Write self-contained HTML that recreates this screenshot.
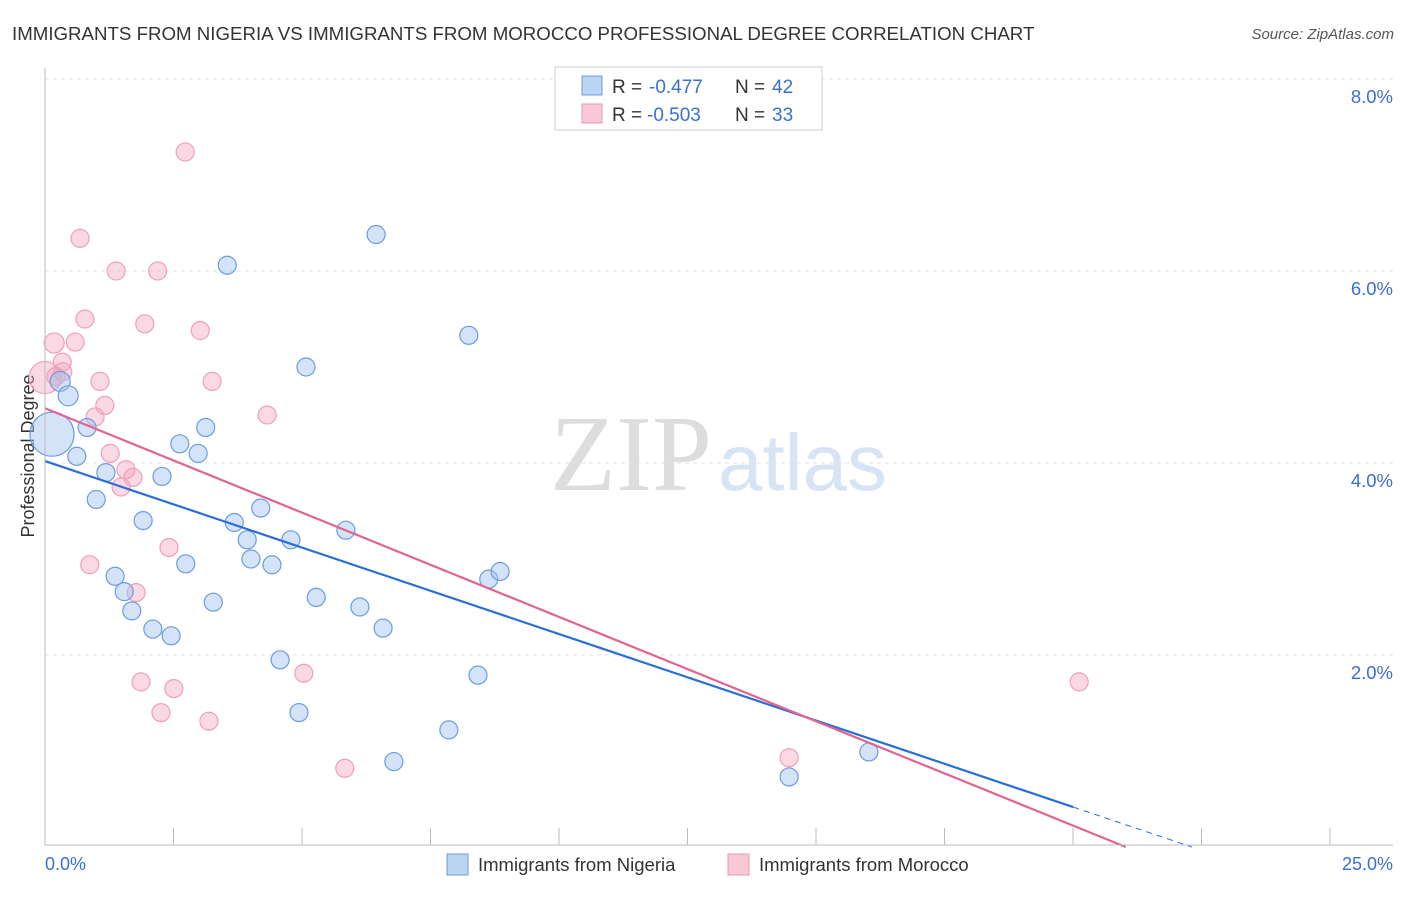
<!DOCTYPE html>
<html><head><meta charset="utf-8"><style>
body{margin:0;background:#fff;font-family:"Liberation Sans",sans-serif;}
#wrap{position:relative;width:1406px;height:892px;}
</style></head><body><div id="wrap">
<svg id="svg" width="1406" height="892">
<text x="12" y="40" font-size="18.7" fill="#333">IMMIGRANTS FROM NIGERIA VS IMMIGRANTS FROM MOROCCO PROFESSIONAL DEGREE CORRELATION CHART</text>
<text x="1394" y="39" font-size="15" fill="#555" font-style="italic" text-anchor="end">Source: ZipAtlas.com</text>
<text x="712" y="490" font-size="108" fill="#ddd" font-family="Liberation Serif" text-anchor="end">ZIP</text>
<text x="718" y="490" font-size="80" fill="#d6e4f5">atlas</text>
<text transform="translate(34,456) rotate(-90)" font-size="18" fill="#333" text-anchor="middle">Professional Degree</text>
<g id="grid"></g><g id="pts"></g><g id="lines"></g>
<line x1="45" y1="68" x2="45" y2="845" stroke="#bbb"/>
<line x1="45" y1="845" x2="1393" y2="845" stroke="#bbb"/>
<text x="45" y="870" font-size="18" fill="#3a70d0">0.0%</text>
<text x="1393" y="870" font-size="18" fill="#3a70d0" text-anchor="end">25.0%</text>
<g>
<rect x="555" y="67" width="267" height="63" fill="#fff" stroke="#ccc"/>
<rect x="582" y="76" width="20" height="19" fill="#bcd4f4" stroke="#6b9de0"/>
<rect x="582" y="104" width="20" height="19" fill="#f9c8d6" stroke="#e89ab2"/>
<text x="612" y="93" font-size="19" fill="#333">R =</text>
<text x="649" y="93" font-size="19" fill="#3a70d0">-0.477</text>
<text x="735" y="93" font-size="19" fill="#333">N =</text>
<text x="772" y="93" font-size="19" fill="#3a70d0">42</text>
<text x="612" y="121" font-size="19" fill="#333">R =</text>
<text x="647" y="121" font-size="19" fill="#3a70d0">-0.503</text>
<text x="735" y="121" font-size="19" fill="#333">N =</text>
<text x="772" y="121" font-size="19" fill="#3a70d0">33</text>
</g>
<g>
<rect x="447" y="854" width="21" height="21" fill="#bcd4f4" stroke="#6b9de0"/>
<text x="478" y="871" font-size="18.5" fill="#333">Immigrants from Nigeria</text>
<rect x="728" y="854" width="21" height="21" fill="#f9c8d6" stroke="#e89ab2"/>
<text x="759" y="871" font-size="18.5" fill="#333">Immigrants from Morocco</text>
</g>
</svg></div>
<script>
const yTicks=[2,4,6,8];
const nigX=[0.13,0.28,0.43,0.78,0.59,0.95,1.13,1.3,1.47,1.61,1.82,2.0,2.17,2.34,2.5,2.61,2.84,2.98,3.12,3.38,3.51,3.75,3.82,4.0,4.21,4.36,4.56,4.71,4.84,5.03,5.58,5.84,6.14,6.27,6.47,7.49,7.86,8.03,8.23,8.44,13.8,15.28];
const nigY=[4.3,4.85,4.7,4.37,4.07,3.62,3.9,2.82,2.66,2.46,3.4,2.27,3.86,2.2,4.2,2.95,4.1,4.37,2.55,6.06,3.38,3.2,3.0,3.53,2.94,1.95,3.2,1.4,5.0,2.6,3.3,2.5,6.38,2.28,0.89,1.22,5.33,1.79,2.79,2.87,0.73,0.99];
const nigR=[22,10,10,9,9,9,9,9,9,9,9,9,9,9,9,9,9,9,9,9,9,9,9,9,9,9,9,9,9,9,9,9,9,9,9,9,9,9,9,9,9,9];
const morX=[0.0,0.17,0.32,0.33,0.56,0.65,0.74,0.93,1.02,1.11,1.21,1.32,1.41,1.5,1.63,1.69,0.83,1.78,1.85,2.09,2.15,2.3,2.39,2.6,2.88,3.04,3.1,4.12,4.8,5.56,13.8,19.18,0.2];
const morY=[4.89,5.25,5.05,4.95,5.26,6.34,5.5,4.48,4.85,4.6,4.1,6.0,3.75,3.93,3.85,2.65,2.94,1.72,5.45,6.0,1.4,3.12,1.65,7.24,5.38,1.31,4.85,4.5,1.81,0.82,0.93,1.72,4.9];
const morR=[16,10,9,9,9,9,9,9,9,9,9,9,9,9,9,9,9,9,9,9,9,9,9,9,9,9,9,9,9,9,9,9,9];
const nigLine=[4.02,-0.189];const morLine=[4.57,-0.228];
const X=v=>45+v/25*1348, Y=v=>847-v*96;
const NS='http://www.w3.org/2000/svg';
function mk(t,a,p){const e=document.createElementNS(NS,t);for(const k in a)e.setAttribute(k,a[k]);p.appendChild(e);return e;}
const grid=document.getElementById('grid');
yTicks.forEach(t=>{const l=mk('line',{x1:45,x2:1393,y1:Y(t),y2:Y(t),stroke:'#e3e3e3','stroke-dasharray':'4,4'},grid);


const tx=mk('text',{x:1393,y:Y(t)+24,'font-size':18.5,fill:'#3a70d0','text-anchor':'end'},grid);tx.textContent=t.toFixed(1)+'%';

});
for(let i=0;i<=10;i++){const px=45+i*128.5;const l=mk('line',{x1:px,x2:px,y1:828,y2:845,stroke:'#bbb'},grid);

}
const pts=document.getElementById('pts');
morX.forEach((v,i)=>{const c=mk('circle',{cx:X(v),cy:Y(morY[i]),r:morR[i],fill:'rgba(244,160,188,0.4)',stroke:'#eea0b8','stroke-width':1.2},pts);

});
nigX.forEach((v,i)=>{const c=mk('circle',{cx:X(v),cy:Y(nigY[i]),r:nigR[i],fill:'rgba(160,194,240,0.45)',stroke:'#6b9de0','stroke-width':1.2},pts);

});
const lg=document.getElementById('lines');
const xe=19.07,xz=-nigLine[0]/nigLine[1];
let l=mk('line',{x1:X(0),y1:Y(nigLine[0]),x2:X(xe),y2:Y(nigLine[0]+nigLine[1]*xe),stroke:'#2a6fd6','stroke-width':2.2},lg);


l=mk('line',{x1:X(xe),y1:Y(nigLine[0]+nigLine[1]*xe),x2:X(xz),y2:Y(0),stroke:'#2a6fd6','stroke-width':1,'stroke-dasharray':'6,5'},lg);


const mz=-morLine[0]/morLine[1];
l=mk('line',{x1:X(0),y1:Y(morLine[0]),x2:X(mz),y2:Y(0),stroke:'#e0648f','stroke-width':2.2},lg);


</script></body></html>
